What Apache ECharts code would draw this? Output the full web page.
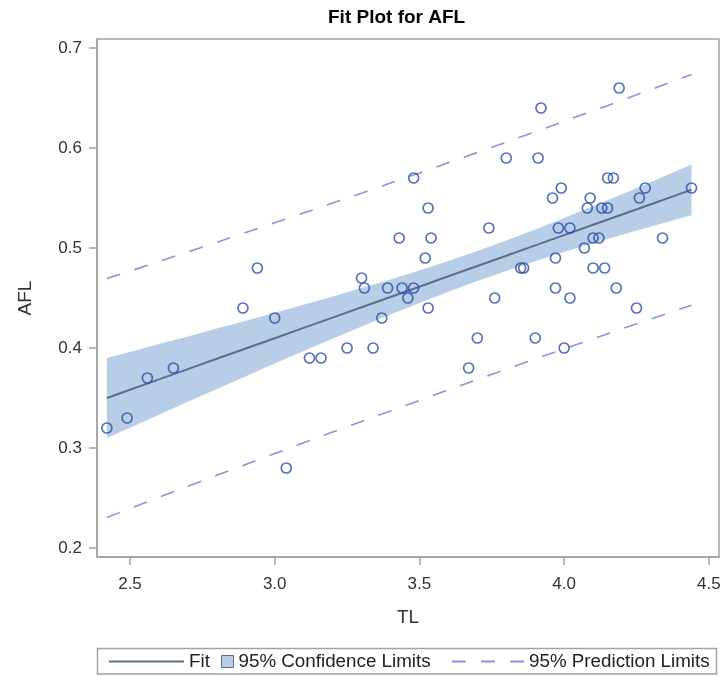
<!DOCTYPE html>
<html>
<head>
<meta charset="utf-8">
<script src="https://cdn.jsdelivr.net/npm/echarts@6/dist/echarts.min.js"></script>
<style>
html,body{margin:0;padding:0;background:#fff;}
#chart{width:723px;height:676px;}
</style>
</head>
<body>
<div id="chart"></div>
<script>
const tl = [2.42,2.49,2.56,2.65,2.89,2.94,3.00,3.04,3.12,3.16,3.25,3.30,3.31,3.34,3.37,3.39,3.43,3.44,3.46,3.48,3.48,3.52,3.53,3.53,3.54,3.67,3.70,3.74,3.76,3.80,3.85,3.86,3.90,3.91,3.92,3.96,3.97,3.97,3.98,3.99,4.00,4.02,4.02,4.07,4.08,4.09,4.10,4.10,4.12,4.13,4.14,4.15,4.15,4.17,4.18,4.19,4.25,4.26,4.28,4.34,4.44];
const afl = [0.32,0.33,0.37,0.38,0.44,0.48,0.43,0.28,0.39,0.39,0.40,0.47,0.46,0.40,0.43,0.46,0.51,0.46,0.45,0.57,0.46,0.49,0.54,0.44,0.51,0.38,0.41,0.52,0.45,0.59,0.48,0.48,0.41,0.59,0.64,0.55,0.49,0.46,0.52,0.56,0.40,0.52,0.45,0.50,0.54,0.55,0.51,0.48,0.51,0.54,0.48,0.57,0.54,0.57,0.46,0.66,0.44,0.55,0.56,0.51,0.56];

// Fit line and limits, read at these TL positions
const bandX   = [2.42,  2.5,    2.6,    2.7,    2.8,    2.9,    3.0,    3.1,    3.2,    3.3,    3.4,    3.5,    3.6,    3.7,    3.8,    3.9,    4.0,    4.1,    4.2,    4.3,    4.4,    4.44];
const fitY    = [0.3500,0.3582, 0.3686, 0.3789, 0.3892, 0.3995, 0.4098, 0.4201, 0.4304, 0.4407, 0.4510, 0.4613, 0.4717, 0.4820, 0.4923, 0.5026, 0.5129, 0.5232, 0.5335, 0.5438, 0.5541, 0.5582];
const clUpper = [0.3900,0.3961, 0.4039, 0.4116, 0.4194, 0.4273, 0.4352, 0.4433, 0.4515, 0.4599, 0.4686, 0.4776, 0.4871, 0.4970, 0.5075, 0.5185, 0.5299, 0.5417, 0.5538, 0.5661, 0.5786, 0.5836];
const clLower = [0.3100,0.3203, 0.3333, 0.3462, 0.3590, 0.3717, 0.3844, 0.3969, 0.4093, 0.4215, 0.4334, 0.4450, 0.4563, 0.4670, 0.4771, 0.4867, 0.4959, 0.5047, 0.5132, 0.5215, 0.5296, 0.5328];
const plUpper = [0.4694,0.4769, 0.4865, 0.4961, 0.5057, 0.5154, 0.5252, 0.5350, 0.5449, 0.5548, 0.5649, 0.5750, 0.5853, 0.5955, 0.6058, 0.6162, 0.6267, 0.6372, 0.6478, 0.6585, 0.6693, 0.6736];
const plLower = [0.2306,0.2395, 0.2507, 0.2617, 0.2727, 0.2836, 0.2944, 0.3052, 0.3159, 0.3266, 0.3371, 0.3476, 0.3581, 0.3685, 0.3788, 0.3890, 0.3991, 0.4092, 0.4192, 0.4291, 0.4389, 0.4428];

// Tick labels
const xTicks = [2.5, 3.0, 3.5, 4.0, 4.5];
const yTicks = [0.2, 0.3, 0.4, 0.5, 0.6, 0.7];

const FONT = "'Liberation Sans', Arial, sans-serif";
const frameColor = '#A3A3A3';
const markerColor = '#2C4FAA';
const fitColor = '#5E6F8C';
const bandColor = '#B8CDE6';
const predColor = '#8C94D6';

const chart = echarts.init(document.getElementById('chart'), null, {renderer:'canvas'});

const pair = (xs, ys) => xs.map((x, i) => [x, ys[i]]);
const legendText = {fontFamily: FONT, fontSize: 18.8, color: '#222', lineHeight: 18};

const option = {
  animation: false,
  backgroundColor: '#fff',
  textStyle: {fontFamily: FONT},
  title: {
    text: 'Fit Plot for AFL',
    left: 323, top: 3,
    textStyle: {fontFamily: FONT, fontSize: 19, fontWeight: 'bold', color: '#000'}
  },
  grid: {
    left: 97, top: 39, right: 4, bottom: 119,
    show: true, borderColor: frameColor, borderWidth: 1.5,
    outerBoundsMode: 'none', containLabel: false
  },
  xAxis: {
    type: 'value', min: 2.386, max: 4.535,
    name: 'TL', nameLocation: 'middle', nameGap: 51, nameMoveOverlap: false,
    nameTextStyle: {fontFamily: FONT, fontSize: 19, color: '#333'},
    splitLine: {show: false},
    axisLine: {show: true, onZero: false, lineStyle: {color: frameColor, width: 1.5}},
    axisTick: {show: true, length: 8, customValues: xTicks, lineStyle: {color: frameColor, width: 1.5}},
    axisLabel: {customValues: xTicks, formatter: v => v.toFixed(1), margin: 19, fontSize: 17, color: '#333', fontFamily: FONT}
  },
  yAxis: {
    type: 'value', min: 0.191, max: 0.709,
    name: 'AFL', nameLocation: 'middle', nameGap: 62, nameMoveOverlap: false,
    nameTextStyle: {fontFamily: FONT, fontSize: 19, color: '#333'},
    splitLine: {show: false},
    axisLine: {show: true, onZero: false, lineStyle: {color: frameColor, width: 1.5}},
    axisTick: {show: true, length: 8, customValues: yTicks, lineStyle: {color: frameColor, width: 1.5}},
    axisLabel: {customValues: yTicks, formatter: v => v.toFixed(1), margin: 15, fontSize: 17, color: '#333', fontFamily: FONT}
  },
  legend: [
    {
      data: [{name: 'Fit'}],
      left: 108, top: 652, padding: 0,
      itemWidth: 75, itemHeight: 12,
      itemStyle: {opacity: 0},
      selectedMode: false,
      textStyle: legendText
    },
    {
      data: [{name: '95% Confidence Limits', icon: 'rect',
              itemStyle: {color: bandColor, borderColor: fitColor, borderWidth: 1}}],
      left: 221, top: 652, padding: 0,
      itemWidth: 12, itemHeight: 12,
      selectedMode: false,
      textStyle: legendText
    },
    {
      data: [{name: '95% Prediction Limits'}],
      left: 451, top: 652, padding: 0,
      itemWidth: 72, itemHeight: 12,
      itemStyle: {opacity: 0},
      selectedMode: false,
      textStyle: legendText
    }
  ],
  graphic: [
    {
      type: 'rect',
      shape: {x: 97.5, y: 648.5, width: 619, height: 25.5},
      style: {fill: 'none', stroke: frameColor, lineWidth: 1.5},
      silent: true, z: 0
    }
  ],
  series: [
    {
      name: '95% Confidence Limits',
      type: 'custom',
      z: 1,
      silent: true,
      data: bandX.map((x, i) => [x, clLower[i], clUpper[i]]),
      encode: {x: 0, y: [1, 2]},
      renderItem: function (params, api) {
        if (params.dataIndex !== 0) return null;
        const pts = [];
        for (let i = 0; i < bandX.length; i++) pts.push(api.coord([bandX[i], clUpper[i]]));
        for (let i = bandX.length - 1; i >= 0; i--) pts.push(api.coord([bandX[i], clLower[i]]));
        return {type: 'polygon', shape: {points: pts}, style: {fill: bandColor, stroke: null}};
      }
    },
    {
      name: 'Fit', type: 'line', z: 3,
      data: pair(bandX, fitY),
      showSymbol: false, symbol: 'none',
      lineStyle: {color: fitColor, width: 2},
      itemStyle: {color: fitColor}
    },
    {
      name: '95% Prediction Limits', type: 'line', z: 2,
      data: pair(bandX, plUpper),
      showSymbol: false, symbol: 'none',
      lineStyle: {color: predColor, width: 1.6, type: [14, 15]},
      itemStyle: {color: predColor}
    },
    {
      name: '95% Prediction Limits', type: 'line', z: 2,
      data: pair(bandX, plLower),
      showSymbol: false, symbol: 'none',
      lineStyle: {color: predColor, width: 1.6, type: [14, 15]},
      itemStyle: {color: predColor}
    },
    {
      name: 'AFL', type: 'scatter', z: 4,
      data: pair(tl, afl),
      symbol: 'circle', symbolSize: 10,
      itemStyle: {color: 'rgba(0,0,0,0)', borderColor: markerColor, borderWidth: 1.7}
    }
  ]
};

chart.setOption(option);
</script>
</body>
</html>
